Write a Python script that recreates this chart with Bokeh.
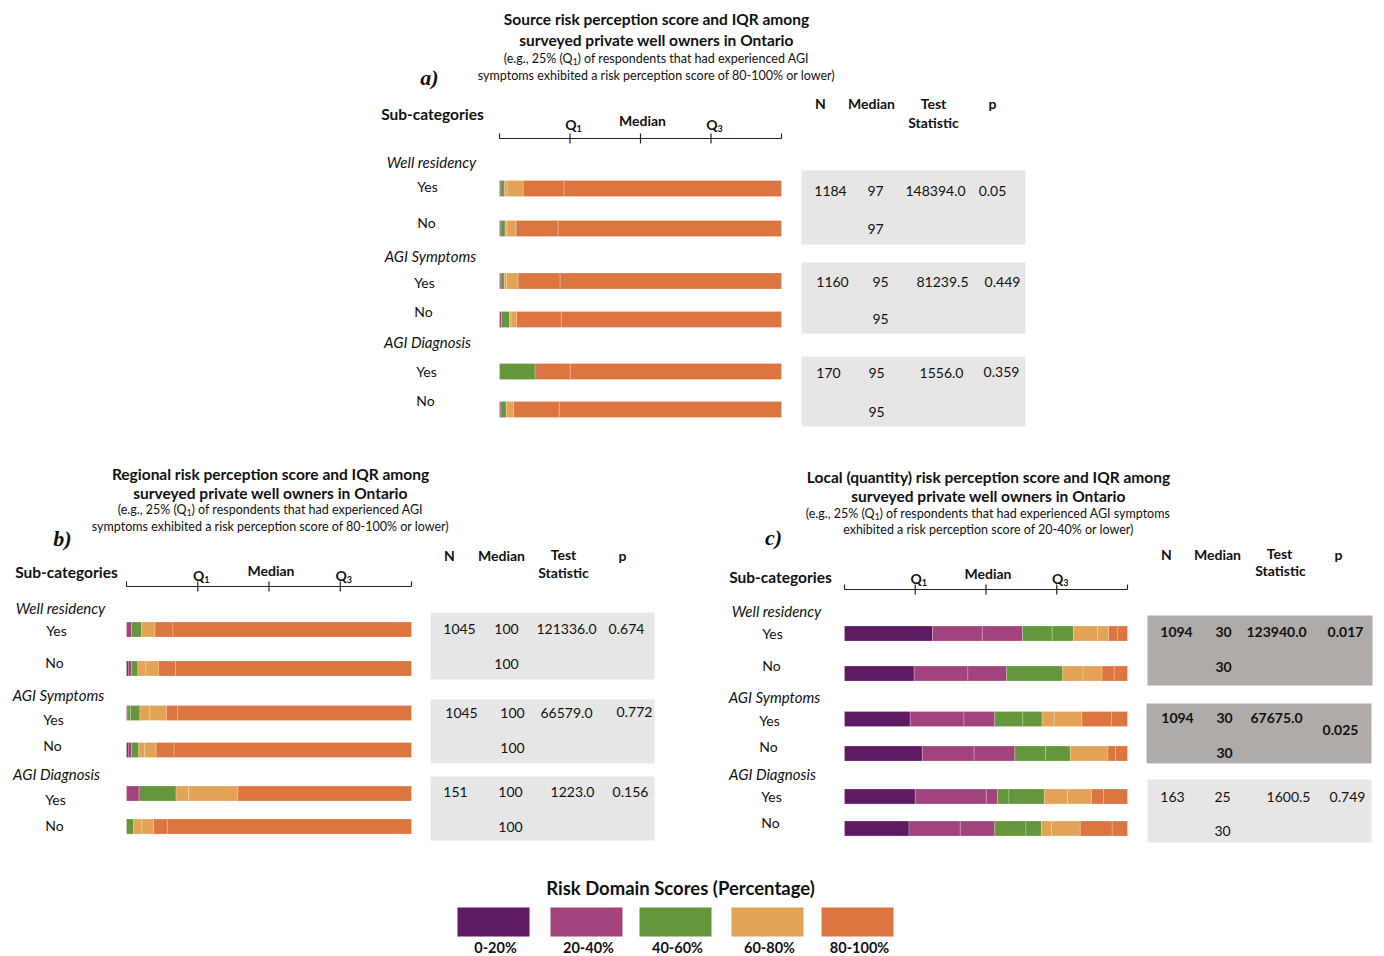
from bokeh.plotting import figure
from bokeh.models import Range1d, ColumnDataSource
from bokeh.core.properties import value
from bokeh.embed import file_html
from bokeh.resources import INLINE

W, H = 1384, 956
SANS = "Lato"
SERIF = "Liberation Serif"

# ---------------------------------------------------------------- data
SCORE_BANDS = ["0-20%", "20-40%", "40-60%", "60-80%", "80-100%"]
BAND_COLORS = ["#5e1a62", "#a3437e", "#64963b", "#e2a355", "#dc7540"]

GROUPS = ["Well residency", "AGI Symptoms", "AGI Diagnosis"]
ANSWERS = ["Yes", "No"]

# quartile ruler: (main letter, subscript, percentile)
QUARTILE_LABELS = [("Q", "1"), ("Median", ""), ("Q", "3")]
QUARTILE_PCT = [25, 50, 75]

# share of respondents (%) per score step; first item = score band index
SOURCE_SEGMENTS = [
    [(1, 0.5), (2, 1.2), (3, 1.0), (3, 5.7), (4, 14.5), (4, 77.1)],
    [(1, 0.5), (2, 1.5), (3, 0.7), (3, 3.2), (4, 14.9), (4, 79.2)],
    [(1, 0.5), (2, 1.2), (3, 0.8), (3, 4.1), (4, 14.9), (4, 78.5)],
    [(1, 0.7), (2, 2.9), (3, 0.5), (3, 2.0), (4, 15.8), (4, 78.1)],
    [(2, 12.6), (4, 12.5), (4, 74.9)],
    [(1, 0.5), (2, 1.9), (3, 2.6), (4, 16.2), (4, 78.8)],
]
REGIONAL_SEGMENTS = [
    [(1, 1.8), (2, 3.5), (3, 4.7), (4, 6.3), (4, 83.7)],
    [(0, 0.6), (1, 1.2), (2, 2.2), (3, 2.8), (3, 4.4), (4, 6.0), (4, 82.8)],
    [(1, 0.5), (2, 0.9), (2, 3.3), (3, 3.5), (3, 5.8), (4, 4.0), (4, 82.0)],
    [(0, 0.6), (1, 1.2), (2, 2.5), (3, 2.1), (3, 4.0), (4, 6.3), (4, 83.3)],
    [(1, 4.4), (2, 13.0), (3, 4.4), (3, 17.3), (4, 60.9)],
    [(2, 2.5), (3, 2.9), (3, 4.1), (4, 4.8), (4, 85.7)],
]
LOCAL_SEGMENTS = [
    [(0, 31.1), (1, 17.6), (1, 14.2), (2, 10.5), (2, 7.5), (3, 8.6), (3, 3.8), (4, 3.3), (4, 3.4)],
    [(0, 24.6), (1, 19.0), (1, 13.7), (2, 19.8), (3, 7.2), (3, 6.7), (4, 4.3), (4, 4.7)],
    [(0, 23.2), (1, 19.0), (1, 10.9), (2, 9.9), (2, 6.8), (3, 4.3), (3, 9.8), (4, 10.4), (4, 5.7)],
    [(0, 27.5), (1, 18.3), (1, 14.4), (2, 10.9), (2, 8.7), (3, 13.3), (4, 2.7), (4, 4.2)],
    [(0, 25.0), (1, 25.1), (1, 4.0), (2, 4.0), (2, 12.5), (3, 8.2), (3, 8.5), (4, 4.2), (4, 8.5)],
    [(0, 22.8), (1, 18.1), (1, 12.2), (2, 11.0), (2, 5.5), (3, 3.6), (3, 10.1), (4, 11.3), (4, 5.4)],
]

SOURCE_N = ["1184", "1160", "170"]
SOURCE_MEDIAN_YES = ["97", "95", "95"]
SOURCE_MEDIAN_NO = ["97", "95", "95"]
SOURCE_STAT = ["148394.0", "81239.5", "1556.0"]
SOURCE_P = ["0.05", "0.449", "0.359"]

REGIONAL_N = ["1045", "1045", "151"]
REGIONAL_MEDIAN_YES = ["100", "100", "100"]
REGIONAL_MEDIAN_NO = ["100", "100", "100"]
REGIONAL_STAT = ["121336.0", "66579.0", "1223.0"]
REGIONAL_P = ["0.674", "0.772", "0.156"]

LOCAL_N = ["1094", "1094", "163"]
LOCAL_MEDIAN_YES = ["30", "30", "25"]
LOCAL_MEDIAN_NO = ["30", "30", "30"]
LOCAL_STAT = ["123940.0", "67675.0", "1600.5"]
LOCAL_P = ["0.017", "0.025", "0.749"]
LOCAL_SIGNIFICANT = [True, True, False]

# title lines; the first subtitle line is split around the Q1 subscript
TITLES = {
    "a": ["Source risk perception score and IQR among",
          "surveyed private well owners in Ontario",
          ("(e.g., 25% (Q", "1", ") of respondents that had experienced AGI"),
          "symptoms exhibited a risk perception score of 80-100% or lower)"],
    "b": ["Regional risk perception score and IQR among",
          "surveyed private well owners in Ontario",
          ("(e.g., 25% (Q", "1", ") of respondents that had experienced AGI"),
          "symptoms exhibited a risk perception score of 80-100% or lower)"],
    "c": ["Local (quantity) risk perception score and IQR among",
          "surveyed private well owners in Ontario",
          ("(e.g., 25% (Q", "1", ") of respondents that had experienced AGI symptoms"),
          "exhibited a risk perception score of 20-40% or lower)"],
}

# ---------------------------------------------------------------- layout
LIGHT_BOX = "#e6e6e6"
DARK_BOX = "#afaba9"

PANELS = {
    "a": dict(
        segments=SOURCE_SEGMENTS, n=SOURCE_N, med_yes=SOURCE_MEDIAN_YES,
        med_no=SOURCE_MEDIAN_NO, stat=SOURCE_STAT, p=SOURCE_P, bold=[False] * 3,
        bar_px=(499, 781), bar_y=[188, 228, 280.5, 319, 371, 409], bar_h=16,
        ruler_y=138, q_y=124, med_y=120,
        title_x=656, title_y=[18, 39, 58, 75], sub_x=572, letter=(429, 77),
        sub_head=(432, 113),
        group_pos=[(431, 161), (430, 255), (427, 341)],
        answer_pos=[[(427, 186), (426, 222)], [(424, 282), (423, 311)], [(426, 371), (425, 400)]],
        head_pos=dict(N=(820, 103), Median=(871, 103), Test=(933, 103), Statistic=(933, 122), p=(992, 103)),
        boxes=[(801, 170, 1025, 244), (801, 262, 1025, 333), (801, 356, 1025, 426)],
        box_fill=[LIGHT_BOX] * 3,
        row1_y=[190, 281, 372], row2_y=[228, 318, 411], p_y=[190, 281, 371],
        n_x=[830, 832, 828], med_x=[875, 880, 876], stat_x=[935, 942, 941], p_x=[992, 1002, 1001],
    ),
    "b": dict(
        segments=REGIONAL_SEGMENTS, n=REGIONAL_N, med_yes=REGIONAL_MEDIAN_YES,
        med_no=REGIONAL_MEDIAN_NO, stat=REGIONAL_STAT, p=REGIONAL_P, bold=[False] * 3,
        bar_px=(126, 411), bar_y=[629, 668, 712.5, 749.5, 793, 826], bar_h=15,
        ruler_y=586, q_y=575, med_y=570,
        title_x=270, title_y=[473, 492, 509, 526], sub_x=186, letter=(62, 538),
        sub_head=(66, 571),
        group_pos=[(60, 607), (58, 694), (56, 773)],
        answer_pos=[[(56, 630), (54, 662)], [(53, 719), (52, 745)], [(55, 799), (54, 825)]],
        head_pos=dict(N=(449, 555), Median=(501, 555), Test=(563, 554), Statistic=(563, 572), p=(622, 555)),
        boxes=[(430, 612, 654, 679), (430, 699, 654, 763), (430, 776, 654, 840)],
        box_fill=[LIGHT_BOX] * 3,
        row1_y=[628, 712, 791], row2_y=[663, 747, 826], p_y=[628, 711, 791],
        n_x=[459, 461, 455], med_x=[506, 512, 510], stat_x=[566, 566, 572], p_x=[626, 634, 630],
    ),
    "c": dict(
        segments=LOCAL_SEGMENTS, n=LOCAL_N, med_yes=LOCAL_MEDIAN_YES,
        med_no=LOCAL_MEDIAN_NO, stat=LOCAL_STAT, p=LOCAL_P, bold=LOCAL_SIGNIFICANT,
        bar_px=(844, 1127), bar_y=[633, 673, 718.5, 753, 796, 828], bar_h=15,
        ruler_y=589, q_y=578, med_y=573,
        title_x=988, title_y=[476, 495, 513, 529], sub_x=874, letter=(773, 537),
        sub_head=(780, 576),
        group_pos=[(776, 610), (774, 696), (772, 773)],
        answer_pos=[[(772, 633), (771, 665)], [(769, 720), (768, 746)], [(771, 796), (770, 822)]],
        head_pos=dict(N=(1166, 554), Median=(1217, 554), Test=(1279, 553), Statistic=(1280, 570), p=(1338, 554)),
        boxes=[(1147, 615, 1372, 685), (1146, 703, 1371, 763), (1147, 779, 1371, 842)],
        box_fill=[DARK_BOX, DARK_BOX, LIGHT_BOX],
        row1_y=[631, 717, 796], row2_y=[666, 752, 830], p_y=[631, 729, 796],
        n_x=[1176, 1177, 1172], med_x=[1223, 1224, 1222], stat_x=[1276, 1276, 1288], p_x=[1345, 1340, 1347],
    ),
}

LEGEND_TITLE = "Risk Domain Scores (Percentage)"
LEGEND_SWATCH_X = [(457, 529), (550, 622), (639, 711), (731, 803), (821, 893)]

# ---------------------------------------------------------------- canvas
p = figure(width=W, height=H, x_range=Range1d(0, W), y_range=Range1d(H, 0),
           output_backend="svg", toolbar_location=None,
           x_axis_location=None, y_axis_location=None, min_border=0)
p.outline_line_color = None
p.grid.visible = False
p.background_fill_color = "white"
p.border_fill_color = "white"

# one percentage scale per panel, placed over that panel's bar area
for key, cfg in PANELS.items():
    x0, x1 = cfg["bar_px"]
    span = x1 - x0
    p.extra_x_ranges[key] = Range1d(-x0 / span * 100.0, (W - x0) / span * 100.0)

texts = {}


def put(x, y, s, size=14, style="normal", align="center", color="#111111", font=SANS, rng="default"):
    k = (font, size, style, align, color, rng)
    d = texts.setdefault(k, {"x": [], "y": [], "text": []})
    d["x"].append(x)
    d["y"].append(y)
    d["text"].append(s)


for key, cfg in PANELS.items():
    x0, x1 = cfg["bar_px"]
    px_to_pct = 100.0 / (x1 - x0)

    # grey table boxes
    bx = cfg["boxes"]
    p.quad(left=[b[0] for b in bx], right=[b[2] for b in bx],
           top=[b[1] for b in bx], bottom=[b[3] for b in bx],
           fill_color=cfg["box_fill"], line_color=None)

    # stacked bars
    left, right, ys, cols = [], [], [], []
    for row, segs in enumerate(cfg["segments"]):
        acc = 0.0
        for band, pct in segs:
            left.append(acc)
            right.append(acc + pct)
            acc += pct
            ys.append(cfg["bar_y"][row])
            cols.append(BAND_COLORS[band])
    src = ColumnDataSource(dict(left=left, right=right, y=ys, color=cols))
    p.hbar(y="y", left="left", right="right", height=cfg["bar_h"], fill_color="color",
           line_color="white", line_alpha=0.22, line_width=1, source=src, x_range_name=key)

    # quartile ruler
    ry = cfg["ruler_y"]
    p.segment(x0=[0], x1=[100], y0=[ry], y1=[ry], line_color="#222222", line_width=1.2, x_range_name=key)
    p.segment(x0=[0, 100], x1=[0, 100], y0=[ry - 5, ry - 5], y1=[ry, ry],
              line_color="#222222", line_width=1.2, x_range_name=key)
    p.segment(x0=QUARTILE_PCT, x1=QUARTILE_PCT, y0=[ry - 5] * 3, y1=[ry + 5] * 3,
              line_color="#222222", line_width=1.2, x_range_name=key)
    for (main, sub), q in zip(QUARTILE_LABELS, QUARTILE_PCT):
        if sub:
            put(q + 1 * px_to_pct, cfg["q_y"], main, size=14, style="bold", rng=key)
            put(q + 6.5 * px_to_pct, cfg["q_y"] + 4, sub, size=9, style="bold", align="left", rng=key)
        else:
            put(q + 2 * px_to_pct, cfg["med_y"], main, size=14, style="bold", rng=key)

    # titles
    tx = cfg["title_x"]
    for i, line in enumerate(TITLES[key]):
        ty = cfg["title_y"][i]
        if isinstance(line, tuple):
            sx = cfg["sub_x"]
            put(sx, ty, line[0], size=12.5, align="right")
            put(sx + 0.3, ty + 3, line[1], size=8.5, align="left")
            put(sx + 5, ty, line[2], size=12.5, align="left")
        elif i < 2:
            put(tx, ty, line, size=15.5, style="bold")
        else:
            put(tx, ty, line, size=12.5)
    put(cfg["letter"][0], cfg["letter"][1], key + ")", size=22, style="bold italic", font=SERIF)

    # row labels
    put(cfg["sub_head"][0], cfg["sub_head"][1], "Sub-categories", size=15.5, style="bold")
    for g, (gx, gy) in enumerate(cfg["group_pos"]):
        put(gx, gy, GROUPS[g], size=15, style="italic")
        for a, (ax, ay) in enumerate(cfg["answer_pos"][g]):
            put(ax, ay, ANSWERS[a], size=14)

    # table header
    for lab, (hx, hy) in cfg["head_pos"].items():
        put(hx, hy, lab, size=14, style="bold")

    # table values
    for r in range(3):
        st = "bold" if cfg["bold"][r] else "normal"
        put(cfg["n_x"][r], cfg["row1_y"][r], cfg["n"][r], size=14, style=st)
        put(cfg["med_x"][r], cfg["row1_y"][r], cfg["med_yes"][r], size=14, style=st)
        put(cfg["stat_x"][r], cfg["row1_y"][r], cfg["stat"][r], size=14, style=st)
        put(cfg["p_x"][r], cfg["p_y"][r], cfg["p"][r], size=14, style=st)
        put(cfg["med_x"][r], cfg["row2_y"][r], cfg["med_no"][r], size=14, style=st)

# legend
put(680, 887, LEGEND_TITLE, size=18.5, style="bold")
p.quad(left=[s[0] for s in LEGEND_SWATCH_X], right=[s[1] for s in LEGEND_SWATCH_X],
       top=[907] * 5, bottom=[936] * 5, fill_color=BAND_COLORS, line_color=None)
for (sx0, sx1), lab in zip(LEGEND_SWATCH_X, SCORE_BANDS):
    put((sx0 + sx1) / 2 + 2, 947, lab, size=14.5, style="bold")

for (font, size, style, align, color, rng), d in texts.items():
    p.text(x="x", y="y", text="text", source=ColumnDataSource(d),
           text_font=value(font), text_font_size=value(f"{size}px"), text_font_style=style,
           text_align=align, text_baseline="middle", text_color=color, x_range_name=rng)

open("out.html", "w").write(file_html(p, INLINE))
